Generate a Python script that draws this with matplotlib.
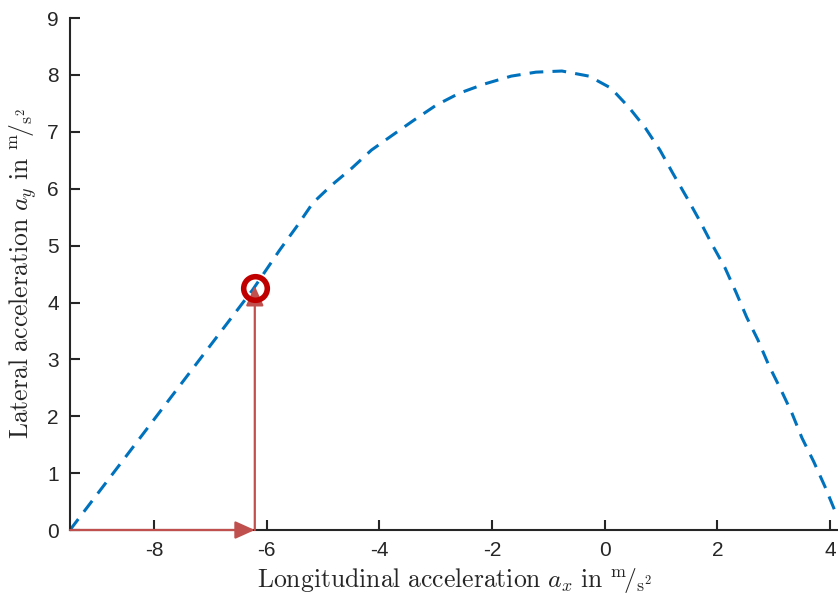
import numpy as np
import matplotlib
matplotlib.use("Agg")
import matplotlib.pyplot as plt

plt.rcParams['font.family'] = ['Liberation Sans', 'DejaVu Sans']
plt.rcParams['mathtext.fontset'] = 'cm'
plt.rcParams['axes.unicode_minus'] = False

# g-g diagram boundary (longitudinal vs. lateral acceleration, m/s^2)
ax_curve = [-9.49, -6.25, -5.77, -5.47, -5.18, -4.85, -4.49, -4.14, -3.77, -3.38,
            -2.99, -2.58, -2.14, -1.66, -1.22, -0.76, -0.28, 0.11, 0.43,
            0.72, 0.98, 1.21, 1.46, 1.69, 1.90, 2.13, 2.33, 2.52, 2.72,
            2.91, 3.13, 3.32, 3.50, 3.71, 3.91, 4.08, 4.14]
ay_curve = [0.00, 4.22, 4.92, 5.33, 5.75, 6.06, 6.36, 6.68, 6.94, 7.21,
            7.47, 7.68, 7.84, 7.98, 8.05, 8.07, 7.98, 7.77, 7.43,
            7.07, 6.68, 6.27, 5.84, 5.43, 5.03, 4.62, 4.18, 3.74, 3.34,
            2.90, 2.46, 2.06, 1.62, 1.20, 0.76, 0.35, 0.22]

# operating point
ax_op = -6.21
ay_op = 4.25

xticks = [-8, -6, -4, -2, 0, 2, 4]
yticks = list(range(0, 10))
x_min, x_max = -9.49, 4.14

fig = plt.figure(figsize=(8.38, 6.04), dpi=100)
ax = fig.add_axes([0.0835, 0.1225, 0.9165, 0.8475])

ax.plot(ax_curve, ay_curve, color='#0072BD', lw=2.2, ls=(0, (4.5, 3.0)),
        dash_capstyle='butt', zorder=2)

red = '#C0504D'
arrow_kw = dict(arrowstyle='-|>,head_length=0.6,head_width=0.27', color=red,
                lw=1.6, shrinkA=0, shrinkB=0, mutation_scale=20)
ax.annotate('', xy=(ax_op, 0), xytext=(x_min, 0), arrowprops=arrow_kw, zorder=3)
ax.annotate('', xy=(ax_op, ay_op + 0.04), xytext=(ax_op, 0), arrowprops=arrow_kw, zorder=3)

ax.plot([ax_op], [ay_op], 'o', ms=17, mfc='none', mec='#C00000', mew=4, zorder=4)

ax.set_xlim(x_min, x_max)
ax.set_ylim(0, 9)
ax.set_xticks(xticks)
ax.set_yticks(yticks)

for side in ['top', 'right']:
    ax.spines[side].set_visible(False)
for side in ['left', 'bottom']:
    ax.spines[side].set_color('#262626')
    ax.spines[side].set_linewidth(1.5)
ax.tick_params(direction='in', length=7, width=1.5, color='#262626',
               labelcolor='#262626', labelsize=15, pad=8)

ax.set_xlabel(r'$\mathrm{Longitudinal\ acceleration}\ a_x\ \mathrm{in}\ ^{\mathrm{m}}\!/_{\mathrm{s}^2}$',
              fontsize=18.5, color='#262626', labelpad=4)
ax.set_ylabel(r'$\mathrm{Lateral\ acceleration}\ a_y\ \mathrm{in}\ ^{\mathrm{m}}\!/_{\mathrm{s}^2}$',
              fontsize=18.5, color='#262626', labelpad=6)

fig.savefig('out.png', dpi=100)
